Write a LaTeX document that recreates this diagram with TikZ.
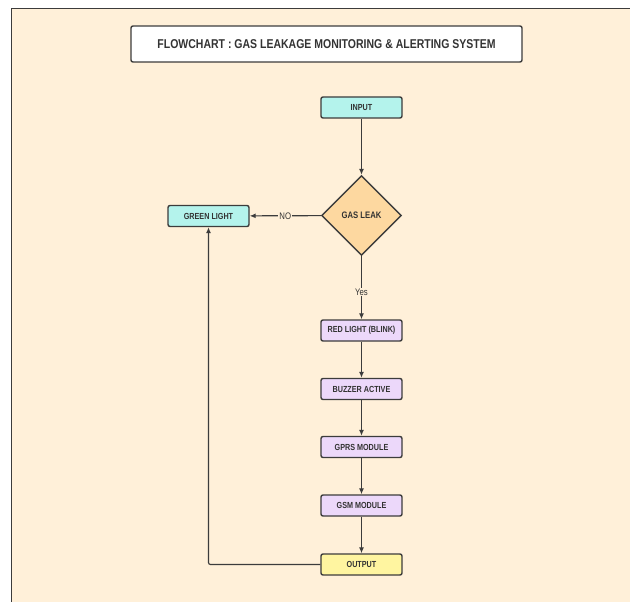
\documentclass[tikz,border=0pt]{standalone}
\usepackage{fontspec}
\setmainfont{Liberation Sans}[FakeStretch=0.82]
\usetikzlibrary{shapes.geometric,arrows.meta}
\definecolor{bg}{HTML}{FFF0D9}
\definecolor{edge}{HTML}{3C3C3C}
\definecolor{txt}{HTML}{333333}
\definecolor{teal}{HTML}{B4F3EC}
\definecolor{orng}{HTML}{FDD8A0}
\definecolor{purp}{HTML}{ECD8FA}
\definecolor{yell}{HTML}{FFF5A0}
\tikzset{
  px/.style={x=1pt,y=-1pt},
  procbox/.style={draw=edge,line width=1.4pt,rounded corners=2pt,minimum width=81pt,minimum height=21pt,inner sep=0pt,font=\fontsize{8.8}{9}\selectfont\bfseries,text=txt},
  flow/.style={draw=edge,line width=1.15pt,-{Latex[length=6pt,width=5pt]}},
  lbl/.style={fill=bg,inner sep=1pt,font=\fontsize{9.5}{10}\selectfont,text=txt}
}
\begin{document}
\begin{tikzpicture}[px]
\useasboundingbox (0,0) rectangle (630,602);
\fill[white] (0,0) rectangle (630,602);
\fill[bg] (11,9) rectangle (630,602);
\draw[edge,line width=1pt] (11,602) -- (11,8.5) -- (630,8.5);
\node[draw=edge,line width=1.4pt,rounded corners=2pt,fill=white,minimum width=391pt,minimum height=36pt,inner sep=0pt,font=\fontsize{12.8}{14}\selectfont\bfseries,text=txt] (title) at (326.5,44) {FLOWCHART : GAS LEAKAGE MONITORING \& ALERTING SYSTEM};
\node[procbox,fill=teal] (input) at (361.5,107.5) {INPUT};
\node[draw=edge,line width=1.4pt,fill=orng,diamond,minimum width=80pt,minimum height=80pt,inner sep=0pt,font=\fontsize{9.4}{10}\selectfont\bfseries,text=txt] (leak) at (361.5,215.5) {GAS LEAK};
\node[procbox,fill=teal] (green) at (208.5,216) {GREEN LIGHT};
\node[procbox,fill=purp] (red) at (361.5,330.5) {RED LIGHT (BLINK)};
\node[procbox,fill=purp] (buzz) at (361.5,389) {BUZZER ACTIVE};
\node[procbox,fill=purp] (gprs) at (361.5,447) {GPRS MODULE};
\node[procbox,fill=purp] (gsm) at (361.5,505.5) {GSM MODULE};
\node[procbox,fill=yell] (out) at (361.5,564.5) {OUTPUT};
\draw[flow] (input) -- (leak);
\draw[flow] (leak) -- node[lbl,pos=0.5] {NO} (green);
\draw[flow] (leak) -- node[lbl,pos=0.57] {Yes} (red);
\draw[flow] (red) -- (buzz);
\draw[flow] (buzz) -- (gprs);
\draw[flow] (gprs) -- (gsm);
\draw[flow] (gsm) -- (out);
\draw[flow,rounded corners=2pt] (out.west) -- (green.south |- out.west) -- (green.south);
\end{tikzpicture}
\end{document}
